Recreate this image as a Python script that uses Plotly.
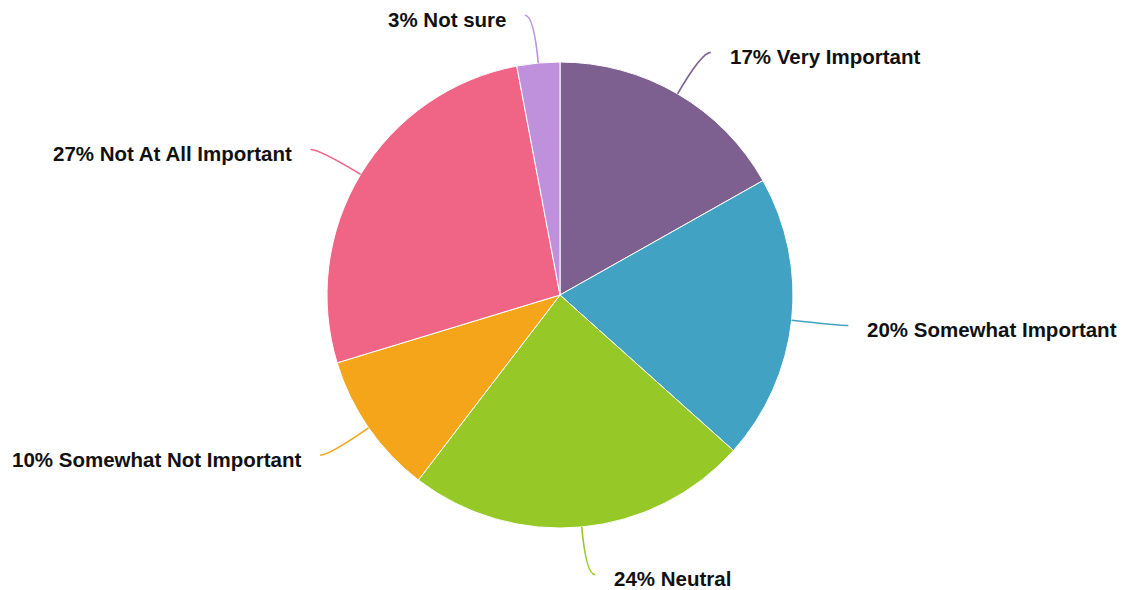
import math
import plotly.graph_objects as go

# Survey answers, share of respondents in percent
categories = [
    "Very Important",
    "Somewhat Important",
    "Neutral",
    "Somewhat Not Important",
    "Not At All Important",
    "Not sure",
]
shares = [17, 20, 24, 10, 27, 3]
colors = ["#7D6090", "#41A2C3", "#96C928", "#F5A519", "#F06586", "#BF91DD"]

# Page geometry (pixels)
W, H = 1125, 590
CX, CY, R = 560, 295, 233
BEND_R = 281      # radius at which a leader line turns horizontal
TAIL = 9          # horizontal run after the bend
LABEL_GAP = 18    # space between line end and its label
LABEL_DROP = 4    # label centre sits slightly below the line end


def to_paper(x, y):
    return x / W, 1 - y / H


fig = go.Figure(
    go.Pie(
        labels=categories,
        values=shares,
        sort=False,
        direction="clockwise",
        rotation=0,
        marker=dict(colors=colors, line=dict(color="white", width=1)),
        textinfo="none",
        hoverinfo="label+percent",
        showlegend=False,
        domain=dict(
            x=[(CX - R) / W, (CX + R) / W],
            y=[1 - (CY + R) / H, 1 - (CY - R) / H],
        ),
    )
)

# Leader lines and outside labels placed from each slice's mid angle
total = sum(shares)
shapes, annotations = [], []
cum = 0.0
for name, val, col in zip(categories, shares, colors):
    mid = math.radians((cum + val / 2) / total * 360)
    cum += val
    s, c = math.sin(mid), math.cos(mid)
    side = 1 if s >= 0 else -1

    x0, y0 = CX + R * s, CY - R * c
    bx, by = CX + BEND_R * s, CY - BEND_R * c
    x2, y2 = bx + side * TAIL, by

    p0 = to_paper(x0, y0)
    pb = to_paper(bx, by)
    p2 = to_paper(x2, y2)
    shapes.append(
        dict(
            type="path",
            xref="paper",
            yref="paper",
            path=f"M {p0[0]},{p0[1]} Q {pb[0]},{pb[1]} {p2[0]},{p2[1]}",
            line=dict(color=col, width=1.6),
        )
    )

    lx, ly = to_paper(x2 + side * LABEL_GAP, y2 + LABEL_DROP)
    annotations.append(
        dict(
            x=lx,
            y=ly,
            xref="paper",
            yref="paper",
            text=f"<b>{val}% {name}</b>",
            showarrow=False,
            xanchor="left" if side > 0 else "right",
            yanchor="middle",
            borderpad=0,
            font=dict(family="Arial", size=20.5, color="#111111"),
        )
    )

fig.update_layout(
    width=W,
    height=H,
    margin=dict(l=0, r=0, t=0, b=0),
    paper_bgcolor="white",
    plot_bgcolor="white",
    shapes=shapes,
    annotations=annotations,
)

fig.write_html("out.html")
